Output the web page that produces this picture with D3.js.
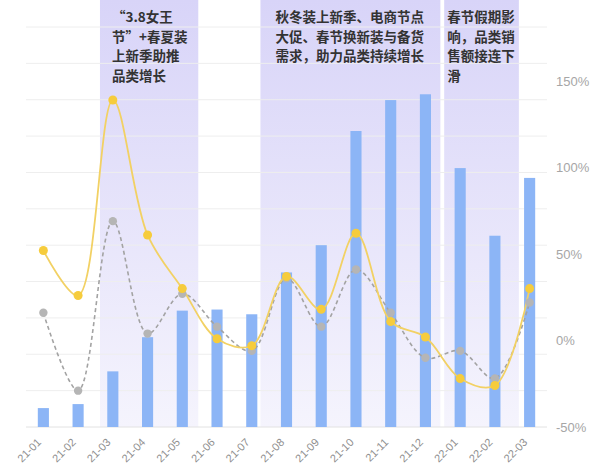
<!DOCTYPE html>
<html>
<head>
<meta charset="utf-8">
<script src="https://cdn.jsdelivr.net/npm/d3@7"></script>
<style>
  body { margin: 0; background: #fff; }
  svg { display: block; font-family: "Liberation Sans", Arial, sans-serif; }
</style>
</head>
<body>
<div id="chart"></div>
<script>
// data
const months = ["21-01","21-02","21-03","21-04","21-05","21-06","21-07","21-08",
  "21-09","21-10","21-11","21-12","22-01","22-02","22-03"];
const sales = [0.52, 0.63, 1.53, 2.47, 3.2, 3.23, 3.1, 4.25, 5.0, 8.14, 8.99, 9.15, 7.12, 5.26, 6.85];
const growthA = [52, 26, 139, 61, 30, 1, -3, 37, 18, 62, 11, 2, -22, -26, 30];
const growthB = [16, -29, 69, 4, 27, 8, -6, 36, 8, 41, 16, -10, -6, -22, 22];
const rightTicks = [-50, 0, 50, 100, 150];
const notes = [
  {from: "21-03", to: "21-05", lines: ["“3.8女王", "节”+春夏装", "上新季助推", "品类增长"]},
  {from: "21-08", to: "21-12", lines: ["秋冬装上新季、电商节点", "大促、春节换新装与备货", "需求，助力品类持续增长"]},
  {from: "22-01", to: "22-02", lines: ["春节假期影", "响，品类销", "售额接连下", "滑"]}
];

function chart() {
  const W = 600, H = 467;
  const left = 26, right = 547, top = 27, bottom = 427;

  const x = d3.scaleBand().domain(months).range([left, right]).paddingInner(0.68).paddingOuter(0.34);
  const y = d3.scaleLinear().domain([0, 11]).range([bottom, top]);
  const y2 = d3.scaleLinear().domain([-50, 150]).range([bottom, 81]);
  const step = x.step();
  const cx = d => x(d) + x.bandwidth() / 2;

  const svg = d3.select("#chart").append("svg")
    .attr("width", W).attr("height", H);

  const defs = svg.append("defs");
  const grad = defs.append("linearGradient")
    .attr("id", "shade").attr("x1", 0).attr("y1", 0).attr("x2", 0).attr("y2", 1);
  grad.append("stop").attr("offset", "0%").attr("stop-color", "#d8d4f8");
  grad.append("stop").attr("offset", "100%").attr("stop-color", "#f5f4fd");

  // shaded periods (how far each band reaches past its first / last month)
  const pads = [[0.37, 0.46], [0.75, 0.43], [0.46, 0.69]];
  notes.forEach((n, i) => {
    const x0 = cx(n.from) - step * pads[i][0];
    const x1 = cx(n.to) + step * pads[i][1];
    svg.append("rect")
      .attr("x", x0).attr("y", 0)
      .attr("width", x1 - x0).attr("height", bottom)
      .attr("fill", "url(#shade)");
  });

  // grid
  svg.append("g")
    .selectAll("line")
    .data(d3.range(0, 12))
    .enter().append("line")
    .attr("x1", left).attr("x2", right)
    .attr("y1", d => y(d)).attr("y2", d => y(d))
    .attr("stroke", d => d === 0 ? "#e2e2e2" : "#eeeeee")
    .attr("stroke-width", 1);

  // bars
  svg.append("g")
    .selectAll("rect")
    .data(months)
    .enter().append("rect")
    .attr("fill", "#8cb5f6")
    .attr("x", d => x(d))
    .attr("width", x.bandwidth())
    .attr("y", (d, i) => y(sales[i]))
    .attr("height", (d, i) => bottom - y(sales[i]));

  // lines
  const line = d3.line()
    .x((d, i) => cx(months[i]))
    .y(d => y2(d))
    .curve(d3.curveCatmullRom.alpha(0.5));

  svg.append("path")
    .datum(growthB)
    .attr("fill", "none")
    .attr("stroke", "#a3a3a3")
    .attr("stroke-width", 1.6)
    .attr("stroke-dasharray", "4,3")
    .attr("d", line);

  svg.append("path")
    .datum(growthA)
    .attr("fill", "none")
    .attr("stroke", "#f2d164")
    .attr("stroke-width", 1.8)
    .attr("d", line);

  svg.append("g")
    .selectAll("circle")
    .data(growthB)
    .enter().append("circle")
    .attr("cx", (d, i) => cx(months[i]))
    .attr("cy", d => y2(d))
    .attr("r", 4.2)
    .attr("fill", "#b5b5b5");

  svg.append("g")
    .selectAll("circle")
    .data(growthA)
    .enter().append("circle")
    .attr("cx", (d, i) => cx(months[i]))
    .attr("cy", d => y2(d))
    .attr("r", 4.5)
    .attr("fill", "#f6cc3c");

  // right axis labels
  svg.append("g")
    .selectAll("text")
    .data(rightTicks)
    .enter().append("text")
    .attr("x", 556)
    .attr("y", d => y2(d))
    .attr("dy", "0.35em")
    .attr("fill", "#a6a6a6")
    .style("font-size", "13px")
    .text(d => d + "%");

  // x labels
  svg.append("g")
    .selectAll("text")
    .data(months)
    .enter().append("text")
    .attr("transform", d => `translate(${cx(d) - 1.5},${bottom + 16}) rotate(-45)`)
    .attr("text-anchor", "end")
    .attr("fill", "#8f8f8f")
    .style("font-size", "11px")
    .text(d => d);

  // notes text
  const tx = [12, 15, 3];
  notes.forEach((n, i) => {
    const x0 = cx(n.from) - step * pads[i][0] + tx[i];
    svg.append("g")
      .selectAll("text")
      .data(n.lines)
      .enter().append("text")
      .attr("x", x0)
      .attr("y", (d, j) => 22 + j * 19.5)
      .attr("fill", "#333")
      .style("font-family", "'Noto Sans CJK SC', sans-serif")
      .style("font-weight", "bold")
      .style("font-size", "13.5px")
      .text(d => d);
  });
}

chart();
</script>
</body>
</html>
